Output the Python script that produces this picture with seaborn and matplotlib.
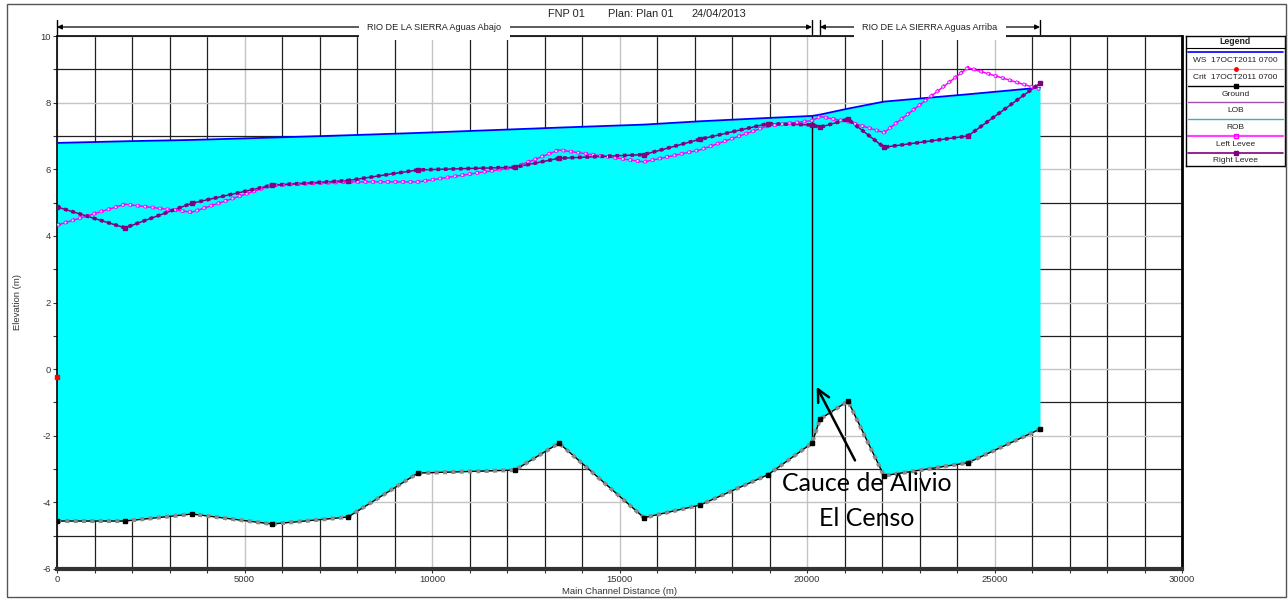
import seaborn as sns
import matplotlib.pyplot as plt
import numpy as np
import pandas as pd
from matplotlib.patches import Rectangle
import matplotlib.transforms as mtransforms

# river stations (m) and profile elevations (m)
stations = [0, 1813, 3600, 5733, 7760, 9627, 12213, 13387, 15653, 17147,
            18960, 20133, 20347, 21093, 22053, 24293, 26213]
ws = [6.79, 6.84, 6.88, 6.95, 7.02, 7.09, 7.20, 7.25, 7.34, 7.44,
      7.54, 7.60, 7.64, 7.82, 8.03, 8.25, 8.45]
ground = [-4.56, -4.56, -4.35, -4.65, -4.44, -3.12, -3.03, -2.22, -4.46, -4.08,
          -3.17, -2.22, -1.50, -0.96, -3.20, -2.81, -1.80]
left_levee = [4.32, 4.95, 4.71, 5.52, 5.62, 5.62, 6.06, 6.58, 6.22, 6.58,
              7.30, 7.46, 7.58, 7.43, 7.10, 9.05, 8.40]
right_levee = [4.87, 4.24, 4.98, 5.52, 5.66, 5.98, 6.06, 6.33, 6.44, 6.90,
               7.37, 7.33, 7.26, 7.50, 6.66, 7.00, 8.58]
crit_x = [0]
crit_y = [-0.23]
junction_x = 20133

reach_names = ['RIO DE LA SIERRA Aguas Abajo', 'RIO DE LA SIERRA Aguas Arriba']
reach_start = [0, 20347]
reach_end = [20133, 26213]
legend_labels = ['WS  17OCT2011 0700', 'Crit  17OCT2011 0700', 'Ground',
                 'LOB', 'ROB', 'Left Levee', 'Right Levee']

df = pd.DataFrame({'station': stations, 'ws': ws, 'ground': ground,
                   'left': left_levee, 'right': right_levee})

sns.set_theme(style='white')
plt.rcParams['font.family'] = ['Liberation Sans Narrow', 'Liberation Sans', 'DejaVu Sans']
plt.rcParams['axes.unicode_minus'] = False
plt.rcParams['lines.scale_dashes'] = False

W, H = 1288, 601
fig = plt.figure(figsize=(W / 100, H / 100), dpi=100)
fig.patch.set_facecolor('white')
fig.patches.append(Rectangle((7 / W, 4 / H), 1279 / W, 593 / H, transform=fig.transFigure,
                             fill=False, edgecolor='#555555', lw=1))

ax = fig.add_axes([57 / W, 32 / H, 1125 / W, 533 / H])

ax.fill_between(df['station'], df['ground'], df['ws'], color='#00ffff', lw=0, zorder=2)
sns.lineplot(data=df, x='station', y='ws', ax=ax, color='#0000ff', lw=1.3,
             estimator=None, zorder=4)

# ground: line, interpolated-section ticks (grey squares drawn as a dash pattern)
# and surveyed sections (black squares)
sns.lineplot(data=df, x='station', y='ground', ax=ax, color='black', lw=1,
             estimator=None, zorder=4)
ax.plot(df['station'], df['ground'], color='#8a8a8a', lw=2.9,
        ls=(0, (2.9, 3.1)), zorder=5)
ax.plot(df['station'], df['ground'], ls='none', marker='s', ms=3.2, color='black', zorder=6)

# levees (thin line + square pattern)
sns.lineplot(data=df, x='station', y='left', ax=ax, color='#ff00ff', lw=1.1,
             estimator=None, zorder=5)
ax.plot(df['station'], df['left'], color='#ff00ff', lw=2.6,
        ls=(0, (2.6, 2.8)), zorder=6)
ax.plot(df['station'], df['left'], color='#b8ffff', lw=1.3,
        ls=(5.05, (1.3, 4.1)), zorder=6)
sns.lineplot(data=df, x='station', y='right', ax=ax, color='#800080', lw=1.1,
             estimator=None, zorder=5)
ax.plot(df['station'], df['right'], color='#800080', lw=2.6,
        ls=(0, (2.6, 2.8)), zorder=6)
ax.plot(df['station'], df['right'], ls='none', marker='s', ms=3.4, color='#800080', zorder=6)

ax.plot(crit_x, crit_y, ls='none', marker='s', ms=2.5, color='red', zorder=7, clip_on=False)
ax.vlines(junction_x, df.loc[df.station == junction_x, 'ground'].iloc[0],
          df.loc[df.station == junction_x, 'ws'].iloc[0], color='black', lw=1, zorder=4)

ax.set_xlim(0, 30000)
ax.set_ylim(-6, 10)
ax.set_xticks(range(0, 30001, 5000))
ax.set_xticks(range(0, 30001, 1000), minor=True)
ax.set_yticks(range(-6, 11, 2))
ax.set_yticks(range(-6, 11, 1), minor=True)
ax.set_axisbelow(True)
ax.grid(which='major', color='#c4c4c4', lw=1)
ax.grid(which='minor', color='#202020', lw=0.9)
ax.tick_params(which='both', direction='out', length=3, width=0.8, color='#333333',
               bottom=True, left=True, labelsize=6.8, labelcolor='#333333', pad=1.5)
ax.set_xlabel('')
ax.set_ylabel('')
for side in ['left', 'top']:
    ax.spines[side].set_color('black')
    ax.spines[side].set_linewidth(1.2)
ax.spines['right'].set_color('black')
ax.spines['right'].set_linewidth(2)
ax.spines['bottom'].set_color('#333333')
ax.spines['bottom'].set_linewidth(3)

fig.text(18 / W, 1 - 302 / H, 'Elevation (m)', rotation=90, ha='center', va='center',
         fontsize=6.8, color='#333333')
fig.text(620 / W, 1 - 592 / H, 'Main Channel Distance (m)', ha='center', va='center',
         fontsize=6.8, color='#333333')

# title pieces
title_font = ['Liberation Sans', 'DejaVu Sans']
fig.text(548 / W, 1 - 14 / H, 'FNP 01', ha='left', va='center', fontsize=7.9, family=title_font, color='#222222')
fig.text(608 / W, 1 - 14 / H, 'Plan: Plan 01', ha='left', va='center', fontsize=7.9, family=title_font, color='#222222')
fig.text(691 / W, 1 - 14 / H, '24/04/2013', ha='left', va='center', fontsize=7.9, family=title_font, color='#222222')

# reach markers above the plot
trans = mtransforms.blended_transform_factory(ax.transData, ax.transAxes)
y_reach = 1 + 9 / 533
for name, x0, x1 in zip(reach_names, reach_start, reach_end):
    ax.annotate('', xy=(x0, y_reach), xytext=(x1, y_reach), xycoords=trans, textcoords=trans,
                arrowprops=dict(arrowstyle='<|-|>', color='black', lw=0.9, mutation_scale=7,
                                shrinkA=0, shrinkB=0), annotation_clip=False)
    for xe in (x0, x1):
        ax.plot([xe, xe], [1 + 2 / 533, 1 + 16 / 533], transform=trans, color='black',
                lw=1, clip_on=False)
    ax.text((x0 + x1) / 2, y_reach, name, transform=trans, ha='center', va='center',
            fontsize=6.6, color='#222222',
            bbox=dict(facecolor='white', edgecolor='none', pad=6))

# annotation for the relief channel
ax.annotate('', xy=(20258, -0.53), xytext=(21280, -2.74),
            arrowprops=dict(arrowstyle='->', color='black', lw=1.8, mutation_scale=22,
                            shrinkA=0, shrinkB=0), zorder=8)
ax.text(21592, -3.42, 'Cauce de Alivio', ha='center', va='center', fontsize=18,
        family=['Lato', 'DejaVu Sans'], color='black', zorder=8)
ax.text(21592, -4.47, 'El Censo', ha='center', va='center', fontsize=18,
        family=['Lato', 'DejaVu Sans'], color='black', zorder=8)

# HEC-RAS style legend box
lax = fig.add_axes([1186 / W, 1 - 166 / H, 99 / W, 130 / H])
lax.set_xlim(0, 99)
lax.set_ylim(130, 0)
lax.set_xticks([])
lax.set_yticks([])
for s in lax.spines.values():
    s.set_color('black')
    s.set_linewidth(1)
lax.text(49.5, 6, 'Legend', ha='center', va='center', fontsize=6.3, fontweight='bold', color='#222222')
lax.plot([0, 99], [11.5, 11.5], color='black', lw=0.8)
legend_styles = [
    dict(color='#0000ff', lw=1.2),
    dict(color='#ff9090', lw=0.8, marker='o', ms=2.5, mfc='red', mec='red'),
    dict(color='black', lw=1.0, marker='s', ms=3, mfc='black', mec='black'),
    dict(color='#a050b0', lw=1.0),
    dict(color='#40b0b0', lw=1.0),
    dict(color='#ff40ff', lw=1.6, marker='s', ms=3, mfc='none', mec='#ff00ff'),
    dict(color='#800080', lw=1.2, marker='s', ms=3, mfc='#800080', mec='#800080'),
]
for i, (lab, st) in enumerate(zip(legend_labels, legend_styles)):
    yl = 16.3 + 16.7 * i
    lax.plot([2, 49.5, 97], [yl, yl, yl], markevery=[1], **st)
    lax.text(49.5, yl + 8.4, lab, ha='center', va='center', fontsize=6.0, color='#222222')

fig.savefig('out.png', dpi=100)
